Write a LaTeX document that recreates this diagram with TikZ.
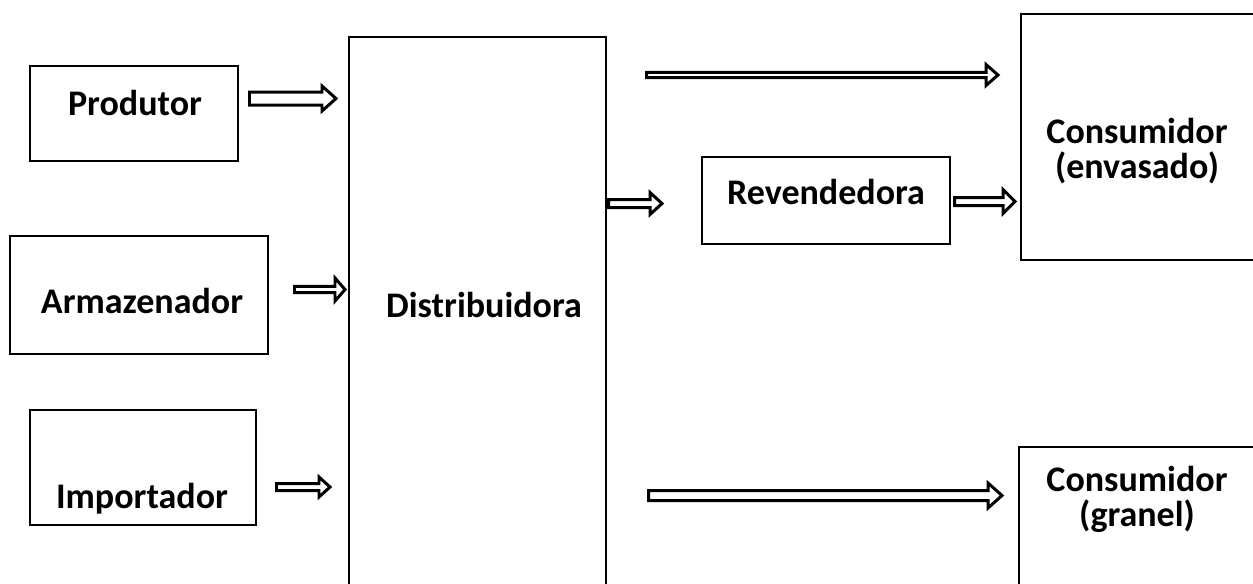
\documentclass[tikz,border=0pt]{standalone}
\usepackage{fontspec}
\setmainfont{Carlito}
\usepackage{tikz}

% seta larga vazada: x inicial, x final, y, meia largura da haste, meia largura da ponta, comprimento da ponta
\newcommand{\blocoseta}[6]{%
\draw[seta] (#1,{#3-#4}) -- ({#2-#6},{#3-#4}) -- ({#2-#6},{#3-#5}) -- (#2,#3)
   -- ({#2-#6},{#3+#5}) -- ({#2-#6},{#3+#4}) -- (#1,{#3+#4}) -- cycle;}

\tikzset{
  caixa/.style={draw, line width=1.6pt, rectangle, inner sep=0pt},
  rotulo/.style={font=\fontsize{20.5}{20}\selectfont\bfseries, align=center, inner sep=0pt},
  seta/.style={draw, line width=1.7pt, fill=white, line join=miter}
}

\begin{document}
\begin{tikzpicture}[x=0.02cm, y=-0.02cm]
\useasboundingbox (0,0) rectangle (1253,583);
\clip (0,0) rectangle (1253,583);

% caixas
\node[caixa, minimum width=4.16cm, minimum height=1.9cm]  (prod) at (134,113.5) {};
\node[caixa, minimum width=5.16cm, minimum height=2.36cm] (arm)  at (139,295) {};
\node[caixa, minimum width=4.52cm, minimum height=2.3cm]  (imp)  at (143,467.5) {};
\node[caixa, minimum width=5.14cm, minimum height=11.66cm] (dist) at (477.5,328.5) {};
\node[caixa, minimum width=4.96cm, minimum height=1.74cm] (rev)  at (826,200.5) {};
\node[caixa, minimum width=5.18cm, minimum height=4.92cm] (cenv) at (1150.5,137) {};
\node[caixa, minimum width=5.22cm, minimum height=3.46cm] (cgra) at (1149.5,533.5) {};

% textos
\node[rotulo] (tprod) at (135,103) {Produtor};
\node[rotulo] (tarm)  at (142,301) {Armazenador};
\node[rotulo] (timp)  at (142,499) {Importador};
\node[rotulo] (tdist) at (484,305) {Distribuidora};
\node[rotulo] (trev)  at (826,192) {Revendedora};
\node[rotulo] (tcenv) at (1137,151) {Consumidor\\(envasado)};
\node[rotulo] (tcgra) at (1137,499) {Consumidor\\(granel)};

% setas
\blocoseta{249.5}{336}{98.5}{6.5}{12.5}{14}
\blocoseta{294.5}{345}{289.5}{3.2}{11.5}{10}
\blocoseta{276.5}{330}{487}{3.5}{10}{11}
\blocoseta{646.5}{998}{75}{2.6}{10.5}{12}
\blocoseta{608.5}{662}{203.5}{4}{11}{12}
\blocoseta{954.5}{1015}{201.5}{4}{12}{12}
\blocoseta{648.5}{1002}{495.5}{5}{12.5}{14}

\end{tikzpicture}
\end{document}
